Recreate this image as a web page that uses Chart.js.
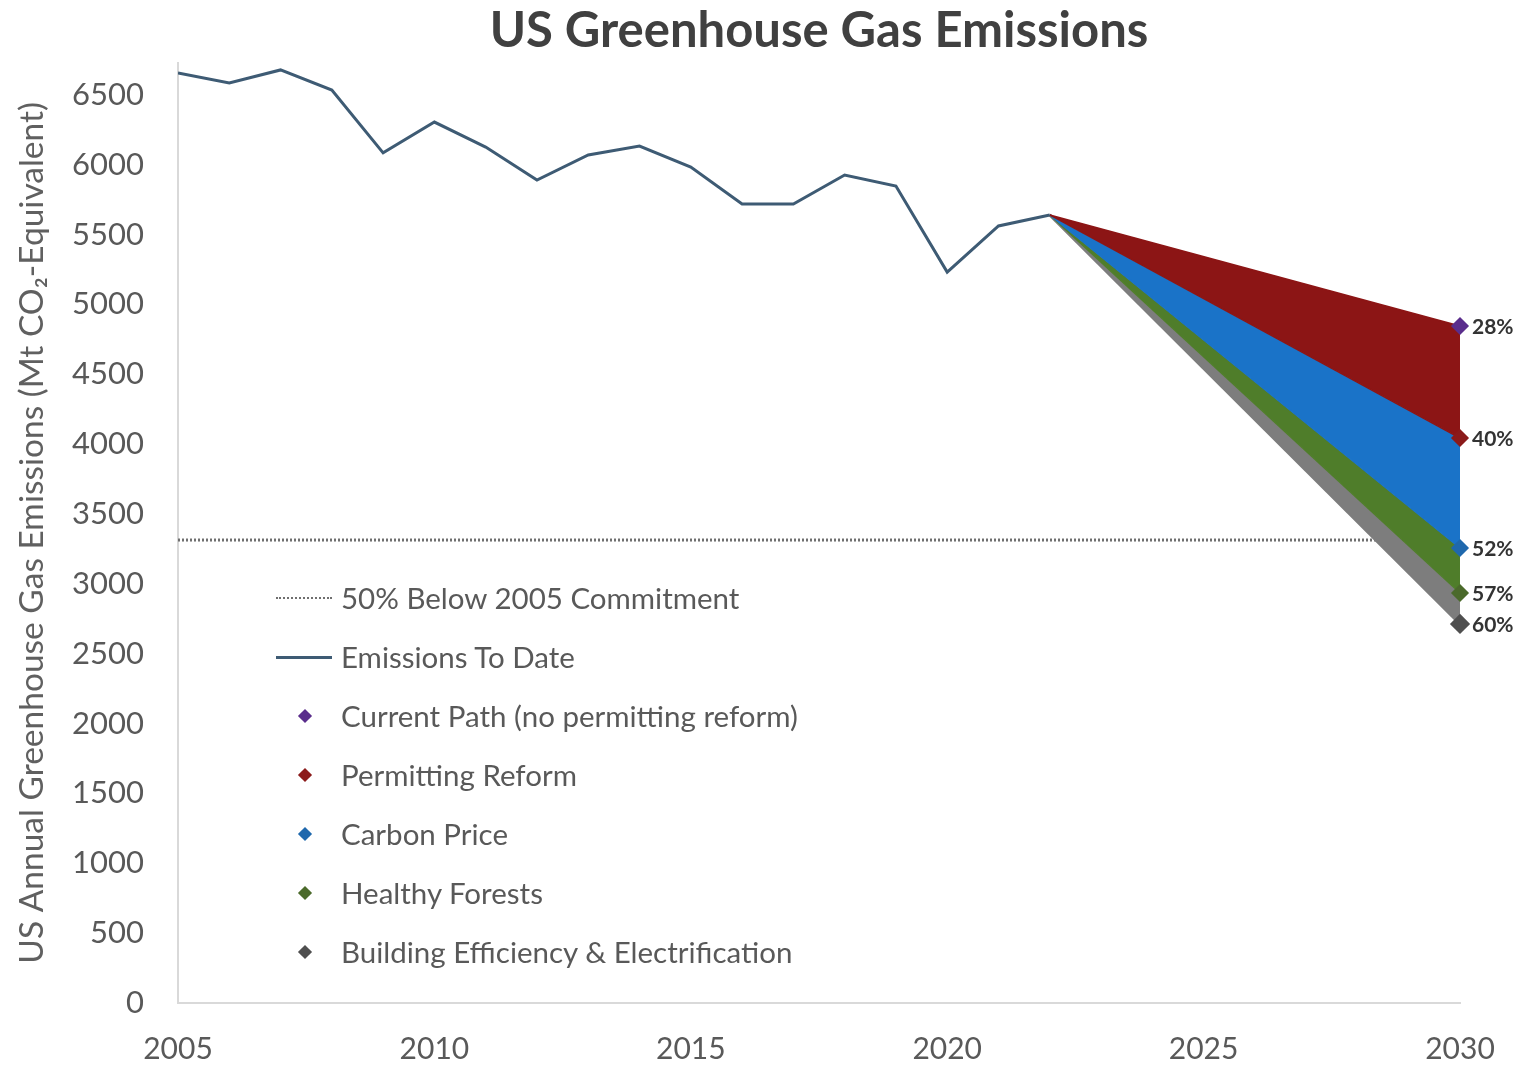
<!DOCTYPE html>
<html>
<head>
<meta charset="utf-8">
<title>US Greenhouse Gas Emissions</title>
<script src="https://cdn.jsdelivr.net/npm/chart.js@4.4.0/dist/chart.umd.min.js"></script>
<style>
  html, body { margin: 0; padding: 0; background: #fff; }
  #wrap { position: relative; width: 1529px; height: 1067px; }
  #legend { position: absolute; left: 276px; top: 568px; font-family: Lato, sans-serif; font-size: 29.5px; color: #595959; }
  .item { display: flex; align-items: center; height: 59px; white-space: nowrap; }
  .sw { width: 56px; height: 20px; position: relative; margin-right: 9px; }
  .sw .ln { position: absolute; left: 0; right: 0; top: 9px; }
  .sw .dm { position: absolute; left: 24px; top: 5px; width: 10px; height: 10px; transform: rotate(45deg); }
</style>
</head>
<body>
<div id="wrap">
  <canvas id="ghg" width="1529" height="1067"></canvas>
  <div id="legend"></div>
</div>
<script>
// historical emissions, Mt CO2e
const years = [2005, 2006, 2007, 2008, 2009, 2010, 2011, 2012, 2013, 2014, 2015, 2016, 2017, 2018, 2019, 2020, 2021, 2022];
const emissions = [6657, 6585, 6679, 6535, 6085, 6306, 6127, 5891, 6070, 6134, 5984, 5719, 5719, 5927, 5848, 5232, 5562, 5641];

// 50% below 2005 target
const commitmentLevel = 3314;

// 2030 scenarios
const targetYear = 2030;
const scenarioNames = ['Current Path (no permitting reform)', 'Permitting Reform', 'Carbon Price', 'Healthy Forests', 'Building Efficiency & Electrification'];
const scenario2030 = [4846, 4044, 3257, 2935, 2713];
const scenarioPct = ['28%', '40%', '52%', '57%', '60%'];
const markerColors = ['#5a2d8c', '#8b1a1a', '#1f68ad', '#4b6a2b', '#4f4f4f'];
const fillColors = ['#8c1515', '#8c1515', '#1a73c8', '#4f7d2a', '#7d7d7d'];

const xTicks = [2005, 2010, 2015, 2020, 2025, 2030];
const yTicks = [0, 500, 1000, 1500, 2000, 2500, 3000, 3500, 4000, 4500, 5000, 5500, 6000, 6500];

const FONT = 'Lato, "Open Sans", sans-serif';

document.addEventListener('DOMContentLoaded', () => {
  const lastYear = years[years.length - 1];
  const lastVal = emissions[emissions.length - 1];

  const datasets = [
    {
      label: '50% Below 2005 Commitment',
      data: [{ x: years[0], y: commitmentLevel }, { x: targetYear, y: commitmentLevel }],
      borderColor: '#6f6f6f',
      borderWidth: 3,
      borderDash: [2, 2],
      pointRadius: 0,
      fill: false,
      order: 10,
      legendType: 'dotted'
    },
    {
      label: 'Emissions To Date',
      data: years.map((y, i) => ({ x: y, y: emissions[i] })),
      borderColor: '#3e5b74',
      borderWidth: 3,
      pointRadius: 0,
      fill: false,
      legendType: 'line'
    }
  ];

  scenarioNames.forEach((name, i) => {
    datasets.push({
      label: name,
      data: [{ x: lastYear, y: lastVal }, { x: targetYear, y: scenario2030[i] }],
      borderColor: fillColors[i],
      borderWidth: i === scenarioNames.length - 1 ? 3 : 1.5,
      backgroundColor: fillColors[i],
      fill: i === 0 ? false : '-1',
      pointStyle: 'rectRot',
      pointRadius: [0, 8],
      pointBackgroundColor: markerColors[i],
      pointBorderColor: markerColors[i],
      clip: false,
      legendType: 'diamond',
      pct: scenarioPct[i]
    });
  });

  // percentage labels next to the 2030 markers
  const pctLabels = {
    id: 'pctLabels',
    afterDatasetsDraw(chart) {
      const ctx = chart.ctx;
      ctx.save();
      ctx.font = 'bold 21px ' + FONT;
      ctx.fillStyle = '#333';
      ctx.textBaseline = 'middle';
      ctx.textAlign = 'left';
      chart.data.datasets.forEach((ds, i) => {
        if (!ds.pct) return;
        const pt = chart.getDatasetMeta(i).data[1];
        ctx.fillText(ds.pct, pt.x + 12, pt.y + 1);
      });
      ctx.restore();
    }
  };

  const chart = new Chart(document.getElementById('ghg').getContext('2d'), {
    type: 'line',
    data: { datasets },
    options: {
      responsive: false,
      animation: false,
      layout: { padding: { left: 0, right: 69, top: 0, bottom: 0 } },
      plugins: {
        legend: { display: false },
        tooltip: { enabled: false },
        title: {
          display: true,
          text: 'US Greenhouse Gas Emissions',
          fullSize: false,
          color: '#404040',
          font: { family: FONT, size: 49, weight: 'bold' },
          padding: { top: 2, bottom: 2 }
        }
      },
      scales: {
        x: {
          type: 'linear',
          min: years[0],
          max: targetYear,
          grid: { display: false, drawTicks: false },
          border: { color: '#d9d9d9', width: 2 },
          afterBuildTicks: s => { s.ticks = xTicks.map(v => ({ value: v })); },
          afterFit: s => { s.height = 64; },
          ticks: {
            callback: v => String(v),
            color: '#595959',
            font: { family: FONT, size: 30 },
            padding: 28,
            maxRotation: 0,
            autoSkip: false
          }
        },
        y: {
          min: 0,
          max: 6730,
          grid: { display: false, drawTicks: false },
          border: { color: '#d9d9d9', width: 2 },
          afterBuildTicks: s => { s.ticks = yTicks.map(v => ({ value: v })); },
          afterFit: s => { s.width = 178; },
          ticks: {
            callback: v => String(v),
            color: '#595959',
            font: { family: FONT, size: 31 },
            padding: 34,
            autoSkip: false
          },
          title: {
            display: true,
            text: 'US Annual Greenhouse Gas Emissions (Mt CO\u2082-Equivalent)',
            color: '#606060',
            font: { family: FONT, size: 33.5 },
            padding: { top: 12, bottom: 0 }
          }
        }
      }
    },
    plugins: [pctLabels]
  });

  buildLegend(chart);
});

/* HTML legend from dataset styles */
function buildLegend(chart) {
  const box = document.getElementById('legend');
  chart.data.datasets.forEach(ds => {
    const item = document.createElement('div');
    item.className = 'item';
    const sw = document.createElement('div');
    sw.className = 'sw';
    if (ds.legendType === 'dotted') {
      sw.innerHTML = '<div class="ln" style="border-top:2px dotted ' + ds.borderColor + '"></div>';
    } else if (ds.legendType === 'line') {
      sw.innerHTML = '<div class="ln" style="border-top:3px solid ' + ds.borderColor + '"></div>';
    } else {
      sw.innerHTML = '<div class="dm" style="background:' + ds.pointBackgroundColor + '"></div>';
    }
    const txt = document.createElement('span');
    txt.textContent = ds.label;
    item.appendChild(sw);
    item.appendChild(txt);
    box.appendChild(item);
  });
}
</script>
</body>
</html>
